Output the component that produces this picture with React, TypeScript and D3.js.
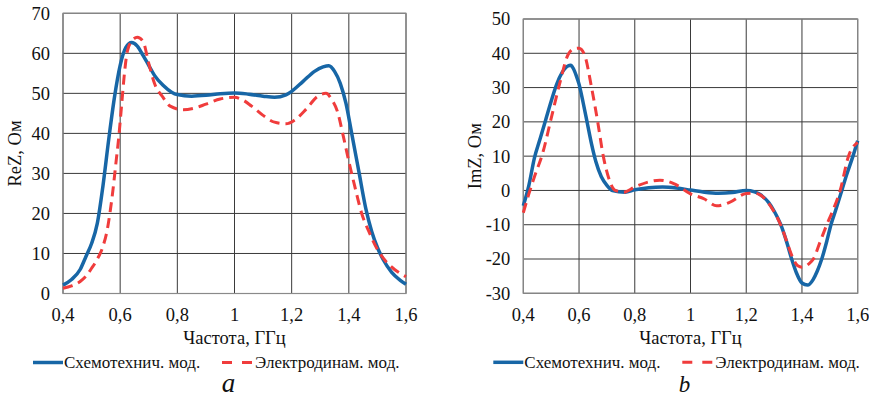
import React, { useEffect, useRef } from 'react';
import * as d3 from 'd3';

// ReZ panel (a)
const reBlueF = [0.4, 0.43, 0.46, 0.48, 0.5, 0.52, 0.54, 0.56, 0.58, 0.6, 0.62, 0.64, 0.66, 0.68, 0.7, 0.72, 0.75, 0.78, 0.8, 0.85, 0.9, 0.95, 1.0, 1.05, 1.1, 1.14, 1.18, 1.2, 1.24, 1.28, 1.31, 1.33, 1.35, 1.37, 1.39, 1.41, 1.435, 1.46, 1.48, 1.5, 1.52, 1.55, 1.58, 1.6];
const reBlueV = [2.1, 3.5, 6, 9.2, 12.5, 17.5, 27, 38.5, 49, 57, 61.5, 62.7, 61.8, 59.5, 57, 54.5, 52, 50.3, 49.7, 49.3, 49.5, 49.9, 50.1, 49.8, 49.3, 49, 49.6, 50.5, 53, 55.5, 56.6, 56.9, 55.5, 52.5, 47.5, 40, 30.5, 21, 15.5, 11.5, 8.5, 5.3, 3.3, 2.3];
const reRedF = [0.4, 0.43, 0.46, 0.48, 0.5, 0.52, 0.54, 0.555, 0.565, 0.575, 0.585, 0.595, 0.605, 0.615, 0.625, 0.64, 0.66, 0.68, 0.7, 0.72, 0.75, 0.775, 0.82, 0.86, 0.9, 0.95, 1.0, 1.03, 1.06, 1.1, 1.14, 1.18, 1.21, 1.25, 1.29, 1.32, 1.34, 1.36, 1.38, 1.4, 1.42, 1.445, 1.47, 1.5, 1.53, 1.56, 1.6];
const reRedV = [1.3, 1.9, 3, 4.3, 6.3, 8.6, 11.8, 16, 20.5, 26, 32.5, 39, 47, 55, 60.5, 63, 64, 63, 57.5, 52.5, 49, 46.8, 45.9, 46.3, 47.3, 48.6, 49, 48.3, 46.8, 44.5, 42.8, 42.4, 43.3, 46, 49.2, 50, 48.5, 45.5, 39.5, 33, 27, 20, 15.5, 11, 8, 6, 4.2];

// ImZ panel (b)
const imBlueF = [0.4, 0.42, 0.44, 0.46, 0.48, 0.5, 0.52, 0.54, 0.56, 0.57, 0.58, 0.59, 0.6, 0.615, 0.63, 0.645, 0.66, 0.68, 0.7, 0.72, 0.765, 0.8, 0.85, 0.9, 0.95, 1.0, 1.05, 1.1, 1.15, 1.2, 1.23, 1.25, 1.28, 1.3, 1.324, 1.345, 1.363, 1.38, 1.4, 1.42, 1.44, 1.455, 1.471, 1.49, 1.504, 1.52, 1.543, 1.56, 1.583, 1.6];
const imBlueV = [-4.5, 1.5, 9.5, 15, 20.5, 26, 31, 34.5, 36.3, 36.5, 35.5, 33.5, 31, 25.5, 19.5, 13.5, 8.5, 4, 1.5, 0, -0.5, 0.2, 0.8, 1, 0.7, 0.1, -0.5, -0.8, -0.6, 0, -0.4, -1.2, -3.5, -6, -10, -15, -20, -24, -27, -27.6, -26, -23.5, -20, -14.5, -10, -6, 0, 4.5, 10, 14.5];
const imRedF = [0.4, 0.42, 0.44, 0.47, 0.5, 0.53, 0.56, 0.58, 0.6, 0.62, 0.645, 0.667, 0.687, 0.705, 0.73, 0.76, 0.8, 0.85, 0.89, 0.94, 1.0, 1.05, 1.094, 1.14, 1.2, 1.23, 1.25, 1.28, 1.3, 1.325, 1.35, 1.369, 1.385, 1.4, 1.415, 1.43, 1.441, 1.465, 1.489, 1.51, 1.537, 1.567, 1.6];
const imRedV = [-6.5, -1, 4, 11, 21, 31, 39.5, 41.3, 41.5, 39.5, 30, 20, 10, 4, 0, -0.5, 1, 2.5, 3, 2, -1, -2.5, -4.5, -3.5, -0.9, -0.8, -1.3, -3.7, -6.2, -10.3, -16, -20, -22, -22.4, -22, -21, -20, -15, -10, -6, 0, 10, 14];

const xTicks = [0.4, 0.6, 0.8, 1.0, 1.2, 1.4, 1.6];
const reTicks = [0, 10, 20, 30, 40, 50, 60, 70];
const imTicks = [-30, -20, -10, 0, 10, 20, 30, 40, 50];

const seriesNames = ['Схемотехнич. мод.', 'Электродинам. мод.'];
const BLUE = '#1766a6';
const RED = '#f03c3c';
const FONT = '"Liberation Serif", "Times New Roman", serif';

interface PanelCfg {
  left: number;
  right: number;
  top: number;
  bottom: number;
  yDomain: [number, number];
  yTicks: number[];
  yTitle: string;
  yTitleX: number;
  blue: [number[], number[]];
  red: [number[], number[]];
  letter: string;
  letterY: number;
  letterSize: number;
}

const renderPanel = (g: d3.Selection<SVGGElement, unknown, null, undefined>, c: PanelCfg) => {
  const x = d3.scaleLinear().domain([0.4, 1.6]).range([c.left, c.right]);
  const y = d3.scaleLinear().domain(c.yDomain).range([c.bottom, c.top]);

  g.attr('font-family', FONT).attr('fill', '#111');

  // grid
  g.selectAll('.hg').data(c.yTicks).enter().append('line')
    .attr('x1', c.left).attr('x2', c.right)
    .attr('y1', d => y(d)).attr('y2', d => y(d))
    .attr('stroke', '#3a3a3a').attr('stroke-width', 1);
  g.selectAll('.vg').data(xTicks).enter().append('line')
    .attr('x1', d => x(d)).attr('x2', d => x(d))
    .attr('y1', c.top).attr('y2', c.bottom)
    .attr('stroke', '#3a3a3a').attr('stroke-width', 1);
  g.append('rect')
    .attr('x', c.left).attr('y', c.top)
    .attr('width', c.right - c.left).attr('height', c.bottom - c.top)
    .attr('fill', 'none').attr('stroke', '#8a8a8a').attr('stroke-width', 1.2);

  // tick labels
  g.selectAll('.yl').data(c.yTicks).enter().append('text')
    .attr('x', c.left - 13).attr('y', d => y(d)).attr('dy', '0.35em')
    .attr('text-anchor', 'end').attr('font-size', 18.5)
    .text(d => String(d));
  g.selectAll('.xl').data(xTicks).enter().append('text')
    .attr('x', d => x(d)).attr('y', c.bottom + 21).attr('dy', '0.35em')
    .attr('text-anchor', 'middle').attr('font-size', 18.5)
    .text(d => String(d).replace('.', ','));

  // titles
  g.append('text')
    .attr('transform', `translate(${c.yTitleX},${(c.top + c.bottom) / 2}) rotate(-90)`)
    .attr('dy', '0.35em').attr('text-anchor', 'middle')
    .attr('font-size', 18.5).text(c.yTitle);
  g.append('text')
    .attr('x', (c.left + c.right) / 2).attr('y', c.bottom + 44.5).attr('dy', '0.35em')
    .attr('text-anchor', 'middle').attr('font-size', 18.5)
    .text('Частота, ГГц');

  // curves
  const line = d3.line<[number, number]>()
    .x(d => x(d[0])).y(d => y(d[1]))
    .curve(d3.curveMonotoneX);
  const zipped = (s: [number[], number[]]) => s[0].map((f, i) => [f, s[1][i]] as [number, number]);

  g.append('path').attr('d', line(zipped(c.blue)))
    .attr('fill', 'none').attr('stroke', BLUE).attr('stroke-width', 3.5);
  g.append('path').attr('d', line(zipped(c.red)))
    .attr('fill', 'none').attr('stroke', RED).attr('stroke-width', 3)
    .attr('stroke-dasharray', '10,6');

  // legend
  const ly = c.bottom + 69;
  const lx = c.left - 30;
  g.append('line').attr('x1', lx).attr('x2', lx + 30).attr('y1', ly).attr('y2', ly)
    .attr('stroke', BLUE).attr('stroke-width', 3.5);
  g.append('text').attr('x', lx + 31).attr('y', ly).attr('dy', '0.35em')
    .attr('font-size', 17).text(seriesNames[0]);
  const rx = lx + 189;
  g.append('line').attr('x1', rx).attr('x2', rx + 32).attr('y1', ly).attr('y2', ly)
    .attr('stroke', RED).attr('stroke-width', 3).attr('stroke-dasharray', '10,10');
  g.append('text').attr('x', rx + 33).attr('y', ly).attr('dy', '0.35em')
    .attr('font-size', 17).text(seriesNames[1]);

  g.append('text')
    .attr('x', (c.left + c.right) / 2 - 6).attr('y', c.letterY)
    .attr('text-anchor', 'middle').attr('font-size', c.letterSize).attr('font-style', 'italic')
    .text(c.letter);
};

export default function App() {
  const ref = useRef<SVGSVGElement>(null);

  useEffect(() => {
    if (!ref.current) return;
    const svg = d3.select(ref.current);
    svg.selectAll('*').remove();

    renderPanel(svg.append('g'), {
      left: 63, right: 406, top: 13.3, bottom: 293.5,
      yDomain: [0, 70], yTicks: reTicks, yTitle: 'ReZ, Ом', yTitleX: 15,
      blue: [reBlueF, reBlueV], red: [reRedF, reRedV],
      letter: 'a', letterY: 392, letterSize: 27,
    });
    renderPanel(svg.append('g'), {
      left: 523.3, right: 857.7, top: 19, bottom: 293.3,
      yDomain: [-30, 50], yTicks: imTicks, yTitle: 'ImZ, Ом', yTitleX: 475,
      blue: [imBlueF, imBlueV], red: [imRedF, imRedV],
      letter: 'b', letterY: 392, letterSize: 23,
    });
  }, []);

  return (
    <svg ref={ref} width={869} height={398}
      style={{ position: 'absolute', left: 0, top: 0, background: '#fff' }} />
  );
}
